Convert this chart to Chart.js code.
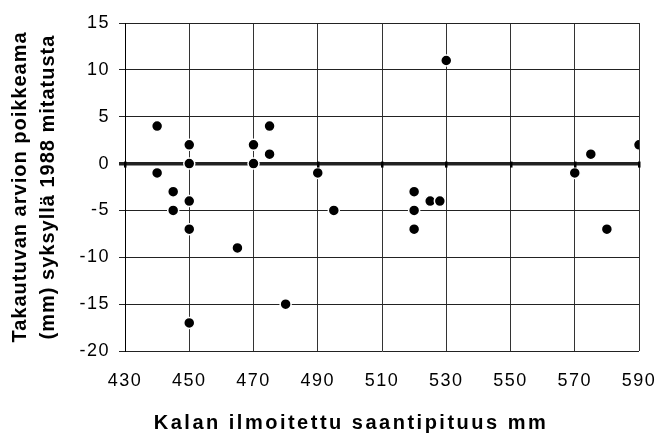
<!DOCTYPE html>
<html>
<head>
<meta charset="utf-8">
<script src="https://cdn.jsdelivr.net/npm/chart.js@4"></script>
<style>
  body { margin: 0; background: #fff; }
  #wrap { width: 658px; height: 435px; }
</style>
</head>
<body>
<div id="wrap"><canvas id="myChart" width="658" height="435"></canvas></div>
<script>
// reported length (mm) and deviation of the back-calculated estimate (mm)
let lengths = [440, 440, 445, 445, 450, 450, 450, 450, 450, 465, 470, 470, 475, 475, 480,
  490, 495, 520, 520, 520, 525, 528, 530, 570, 575, 580, 590];
let deviations = [4, -1, -3, -5, 2, 0, -4, -7, -17, -9, 2, 0, 4, 1, -15,
  -1, -5, -3, -5, -7, -4, -4, 11, -1, 1, -7, 2];

let xTicks = [430, 450, 470, 490, 510, 530, 550, 570, 590];
let yTicks = [-20, -15, -10, -5, 0, 5, 10, 15];

let xTitle = "Kalan ilmoitettu saantipituus mm";
let yTitle = ["Takautuvan arvion poikkeama", "(mm) syksyllä 1988 mitatusta"];

let points = lengths.map((x, i) => ({ x: x, y: deviations[i] }));

// the original text is drawn rather wide, so space the letters out a bit
const origLabels = Chart.LinearScale.prototype.drawLabels;
Chart.LinearScale.prototype.drawLabels = function (area) {
  this.ctx.save();
  this.ctx.letterSpacing = "1.5px";
  origLabels.call(this, area);
  this.ctx.restore();
};
const origTitle = Chart.LinearScale.prototype.drawTitle;
Chart.LinearScale.prototype.drawTitle = function () {
  this.ctx.save();
  if (this.axis === "x") {
    this.ctx.letterSpacing = "2.5px";
    this.ctx.translate(-31, 0); // title sits left of the plot centre in the original
  } else {
    this.ctx.letterSpacing = "1px";
  }
  origTitle.call(this);
  this.ctx.restore();
};

// little tick marks hanging under the zero line
const zeroTicks = {
  id: "zeroTicks",
  afterDatasetsDraw(chart) {
    let ctx = chart.ctx;
    let xs = chart.scales.x;
    let y0 = chart.scales.y.getPixelForValue(0);
    ctx.save();
    ctx.fillStyle = "#000";
    xTicks.forEach((v) => {
      let px = Math.round(xs.getPixelForValue(v));
      ctx.fillRect(px - 1, y0 - 2, 2.5, 6);
    });
    ctx.restore();
  },
};

Chart.defaults.font.family = "'Liberation Sans', Arial, sans-serif";
Chart.defaults.color = "#000";

new Chart("myChart", {
  type: "scatter",
  data: {
    datasets: [
      {
        data: points,
        backgroundColor: "#000",
        borderColor: "#fff",
        borderWidth: 1.5,
        pointRadius: 5.5,
        pointHoverRadius: 5.5,
      },
    ],
  },
  options: {
    responsive: false,
    animation: false,
    layout: { padding: { top: 23, right: 0, left: 0, bottom: 0 } },
    plugins: { legend: { display: false }, tooltip: { enabled: false } },
    scales: {
      x: {
        type: "linear",
        min: xTicks[0],
        max: xTicks[xTicks.length - 1],
        afterBuildTicks: (s) => { s.ticks = xTicks.map((v) => ({ value: v })); },
        afterFit: (s) => {
          s.height = 84;
          s.paddingLeft = 0;
          s.paddingRight = 19;
        },
        grid: { color: "#333", lineWidth: 1, drawTicks: false },
        border: { display: false },
        ticks: { font: { size: 18 }, padding: 19, maxRotation: 0 },
        title: {
          display: true,
          text: xTitle,
          font: { size: 20, weight: "bold" },
          padding: { top: 0, bottom: 0 },
        },
      },
      y: {
        type: "linear",
        min: yTicks[0],
        max: yTicks[yTicks.length - 1],
        afterBuildTicks: (s) => { s.ticks = yTicks.map((v) => ({ value: v })); },
        afterFit: (s) => { s.width = 125; },
        grid: {
          color: "#222",
          lineWidth: (c) => (c.tick && c.tick.value === 0 ? 3.5 : 1),
          tickLength: 6,
        },
        border: { display: true, color: "#000", width: 1 },
        ticks: { font: { size: 18 }, padding: 9 },
        title: {
          display: true,
          text: yTitle,
          font: { size: 20, weight: "bold", lineHeight: 1.4 },
          padding: { top: 6, bottom: 0 },
        },
      },
    },
  },
  plugins: [zeroTicks],
});
</script>
</body>
</html>
